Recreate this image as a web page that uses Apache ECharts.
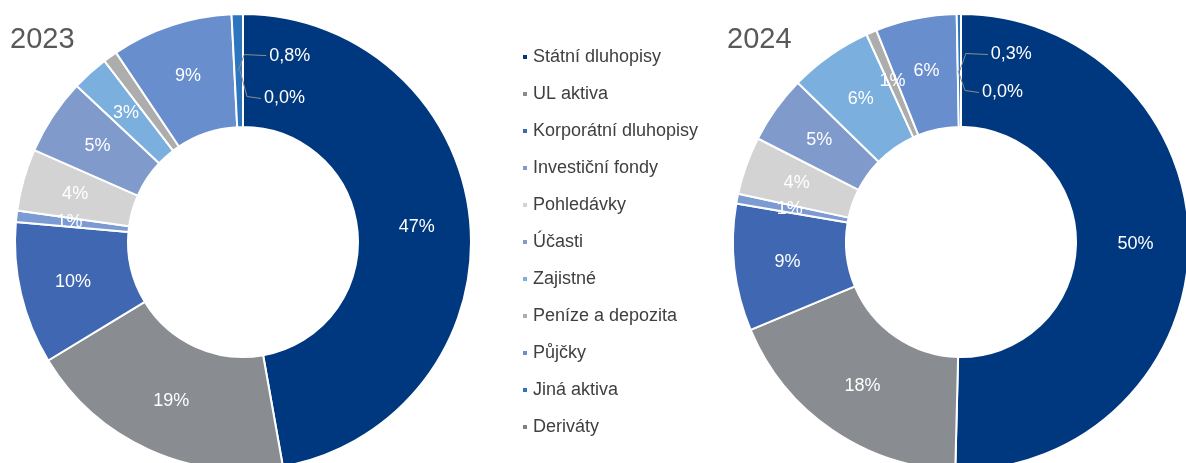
<!DOCTYPE html>
<html>
<head>
<meta charset="utf-8">
<script src="https://cdn.jsdelivr.net/npm/echarts@6/dist/echarts.min.js"></script>
<style>
  html, body { margin: 0; padding: 0; background: #fff; }
  #chart { width: 1186px; height: 463px; }
</style>
</head>
<body>
<div id="chart"></div>
<script>
// kategorie aktiv
const categories = [
  'Státní dluhopisy', 'UL aktiva', 'Korporátní dluhopisy', 'Investiční fondy',
  'Pohledávky', 'Účasti', 'Zajistné', 'Peníze a depozita', 'Půjčky',
  'Jiná aktiva', 'Deriváty'
];
// podíly v % (odhad z grafu)
const values2023 = [47.2, 19.1, 10.1, 0.8, 4.4, 5.4, 2.6, 1.0, 8.6, 0.8, 0.0];
const values2024 = [50.4, 18.3, 9.0, 0.7, 4.1, 4.8, 5.9, 0.75, 5.75, 0.3, 0.0];
const years = ['2023', '2024'];
// malé položky s popiskem venku (s vodicí čarou)
const outsideItems = ['Jiná aktiva', 'Deriváty'];

const colors = [
  '#00387f', '#898c91', '#4068b2', '#7d9bd3', '#d3d3d3', '#7f9acb',
  '#7aafde', '#adadad', '#688ece', '#2e75c0', '#808080'
];

const fmtPct = v => v.toFixed(1).replace('.', ',') + '%';

// hlavní prstenec - popisky uvnitř výsečí
function mainData(values) {
  return categories.map((name, i) => ({
    name: name,
    value: values[i],
    itemStyle: { color: colors[i] },
    label: { show: !outsideItems.includes(name) }
  }));
}

// průhledná kopie nad prstencem, jen kvůli popiskům s čarou
function overlayData(values) {
  return categories.map((name, i) => {
    const show = outsideItems.includes(name);
    return {
      name: name,
      value: values[i],
      label: { show: show },
      labelLine: { show: show }
    };
  });
}

const labelDy = [[-15, 28], [-16, 22]];
const labelDx = [32, 25];

function moveSmallLabels(params) {
  const idx = outsideItems.indexOf(categories[params.dataIndex]);
  if (idx < 0) return {};
  const year = params.seriesIndex % 2;
  const r = params.rect;
  const ax = r.x + r.width / 2 - (idx === 1 ? 4 : 0);
  const ay = r.y + r.height / 2;
  const dy = labelDy[year][idx];
  const lx = ax + labelDx[idx];
  const mid = idx === 0 ? [ax + 7, ay + dy - 1] : [ax + 8, ay + dy - 2];
  return {
    x: lx,
    y: ay + dy,
    align: 'left',
    verticalAlign: 'middle',
    labelLinePoints: [[ax + 1, ay], mid, [lx - 3, ay + dy]]
  };
}

const chart = echarts.init(document.getElementById('chart'));

const centers = [[243, 242], [961, 242]];
const allValues = [values2023, values2024];

const mainSeries = years.map((y, i) => ({
  name: y,
  type: 'pie',
  center: centers[i],
  radius: [115, 228],
  startAngle: 90,
  avoidLabelOverlap: false,
  itemStyle: { borderColor: '#fff', borderWidth: 2 },
  label: {
    position: 'inside',
    color: '#fff',
    fontSize: 18,
    formatter: p => Math.round(p.value) + '%'
  },
  labelLine: { show: false },
  emphasis: { disabled: true },
  data: mainData(allValues[i])
}));

const overlaySeries = years.map((y, i) => ({
  name: y + ' popisky',
  type: 'pie',
  z: 5,
  silent: true,
  center: centers[i],
  radius: [115, 228],
  startAngle: 90,
  avoidLabelOverlap: false,
  itemStyle: { color: 'rgba(0,0,0,0)', borderWidth: 0 },
  label: {
    position: 'outside',
    color: '#fff',
    fontSize: 18,
    formatter: p => fmtPct(p.value)
  },
  labelLine: { lineStyle: { color: '#8c8c8c', width: 1 } },
  labelLayout: moveSmallLabels,
  emphasis: { disabled: true },
  data: overlayData(allValues[i])
}));

const option = {
  animation: false,
  textStyle: { fontFamily: 'Liberation Sans, Arial, sans-serif' },
  title: years.map((y, i) => ({
    text: y,
    left: i === 0 ? 5 : 722,
    top: 20,
    textStyle: { fontSize: 29, fontWeight: 'normal', color: '#595959' }
  })),
  legend: {
    orient: 'vertical',
    left: 516,
    top: 43,
    icon: 'rect',
    itemWidth: 6,
    itemHeight: 6,
    itemGap: 19,
    selectedMode: false,
    data: categories,
    textStyle: { fontSize: 18, color: '#404040' }
  },
  // pořadí: hlavní prstence, pak překryvy
  series: mainSeries.concat(overlaySeries)
};

chart.setOption(option);
</script>
</body>
</html>
